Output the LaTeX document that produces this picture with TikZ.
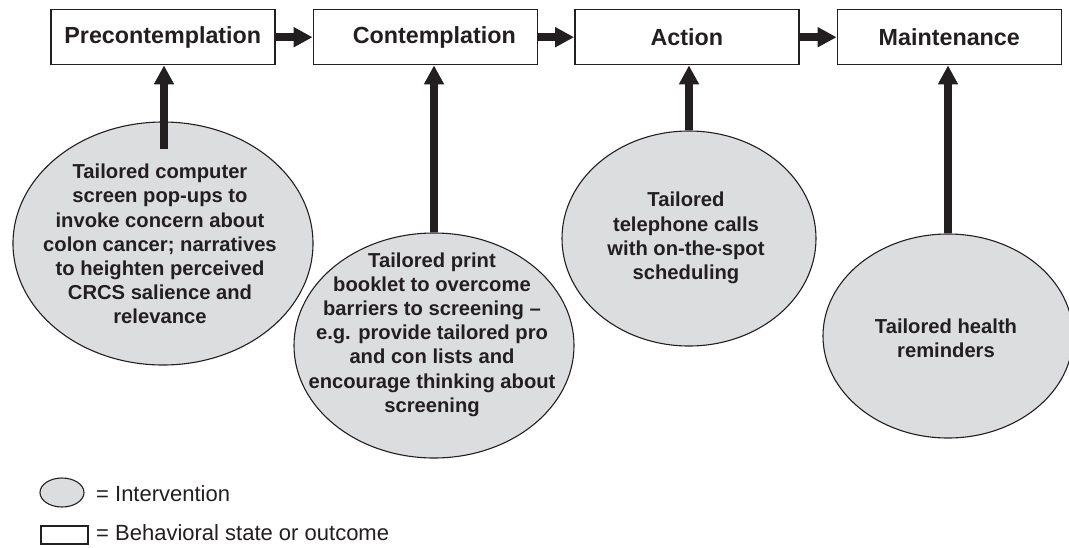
\documentclass[tikz,border=0pt]{standalone}
\usepackage{fontspec}
\setmainfont{Liberation Sans}
\usetikzlibrary{arrows.meta,shapes.geometric}
\definecolor{ink}{RGB}{35,31,32}
\definecolor{efill}{RGB}{220,221,223}
\begin{document}
\begin{tikzpicture}[x=1pt,y=-1pt,
  stage/.style={draw=ink, line width=1.4pt, fill=white, minimum width=224pt, minimum height=55pt, inner sep=0pt, text=ink, font=\bfseries\fontsize{23.3}{28}\selectfont},
  intv/.style={ellipse, draw=ink, line width=1.1pt, fill=efill, inner sep=0pt},
  itext/.style={align=center, inner sep=0pt, text=ink, font=\bfseries\fontsize{20.2}{24.2}\selectfont},
  legtext/.style={anchor=base west, inner sep=0pt, text=ink, font=\fontsize{22}{26}\selectfont},
  bigarrow/.style={draw=ink, line width=7.6pt, -{Triangle[length=19pt,width=19pt]}},
]
\useasboundingbox (0,0) rectangle (1069,547);
\fill[white] (0,0) rectangle (1069,547);

% stages
\node[stage] (b1) at (162.8,37.2) {Precontemplation};
\node[stage] (b2) at (425.3,37.2) {\hspace*{18pt}Contemplation};
\node[stage] (b3) at (686.8,37.2) {Action};
\node[stage] (b4) at (949.3,37.2) {Maintenance};

\draw[bigarrow] (b1) -- (b2);
\draw[bigarrow] (b2) -- (b3);
\draw[bigarrow] (b3) -- (b4);

% interventions
\node[intv, minimum width=300pt, minimum height=243pt] (e1) at (163,243.5) {};
\node[itext] (t1) at (160,244) {Tailored computer\\screen pop-ups to\\invoke concern about\\colon cancer; narratives\\to heighten perceived\\CRCS salience and\\relevance};

\node[intv, minimum width=280pt, minimum height=225pt] (e2) at (434,345.5) {};
\node[itext] (t2) at (432,334.5) {Tailored print\\booklet to overcome\\barriers to screening --\\e.g. provide tailored pro\\and con lists and\\encourage thinking about\\screening};

\node[intv, minimum width=254pt, minimum height=215pt] (e3) at (689,238.5) {};
\node[itext] (t3) at (686,238) {Tailored\\telephone calls\\with on-the-spot\\scheduling};

\node[intv, minimum width=250pt, minimum height=204pt] (e4) at (948,336) {};
\node[itext] (t4) at (946,338) {Tailored health\\reminders};

\coordinate (s1) at (164,149);
\draw[bigarrow] (s1) -- (s1 |- b1.south);
\draw[bigarrow] (e2.north) -- (e2.north |- b2.south);
\draw[bigarrow] (e3.north) -- (e3.north |- b3.south);
\draw[bigarrow] (e4.north) -- (e4.north |- b4.south);

% legend
\node[intv, minimum width=44pt, minimum height=29pt] (le) at (62,492.5) {};
\node[legtext] (lt1) at (96,501) {= Intervention};
\node[draw=ink, line width=1.1pt, fill=white, minimum width=47pt, minimum height=18pt, inner sep=0pt] (lr) at (64.5,535) {};
\node[legtext] (lt2) at (96,540) {= Behavioral state or outcome};
\end{tikzpicture}
\end{document}
